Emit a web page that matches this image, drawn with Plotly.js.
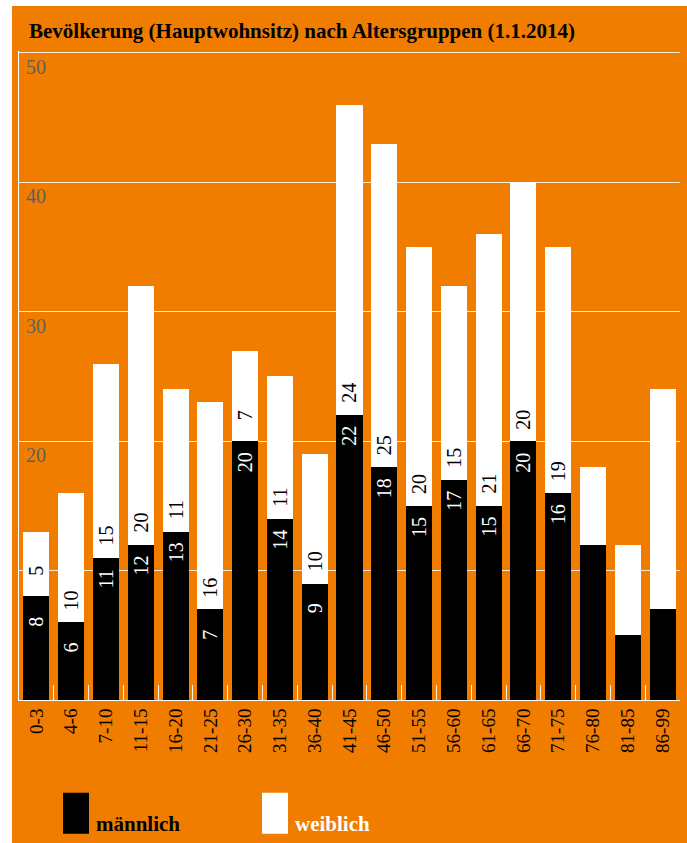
<!DOCTYPE html>
<html>
<head>
<meta charset="utf-8">
<script src="https://cdn.plot.ly/plotly-3.0.1.min.js"></script>
<style>
  html, body { margin: 0; padding: 0; background: #ffffff; width: 687px; height: 843px; overflow: hidden; }
  #chart { position: absolute; left: 12px; top: 6px; width: 675px; height: 837px; }
</style>
</head>
<body>
<div id="chart"></div>
<script>
// ---- data ----
const categories = ['0-3','4-6','7-10','11-15','16-20','21-25','26-30','31-35','36-40','41-45',
                    '46-50','51-55','56-60','61-65','66-70','71-75','76-80','81-85','86-99'];
const maennlich = [8, 6, 11, 12, 13, 7, 20, 14, 9, 22, 18, 15, 17, 15, 20, 16, 12, 5, 7];
const weiblich  = [5, 10, 15, 20, 11, 16, 7, 11, 10, 24, 25, 20, 15, 21, 20, 19, 6, 7, 17];
const labelShown = [true,true,true,true,true,true,true,true,true,true,
                    true,true,true,true,true,true,false,false,false];
const yTickVals = [10, 20, 30, 40, 50];
const titleText = 'Bevölkerung (Hauptwohnsitz) nach Altersgruppen (1.1.2014)';

// ---- style ----
const ORANGE = '#F07D00';
const FONT = 'Liberation Serif, Times New Roman, serif';

const traces = [
  {
    type: 'bar', name: 'männlich', x: categories, y: maennlich,
    marker: { color: '#000000', line: { width: 0 } },
    hoverinfo: 'x+y'
  },
  {
    type: 'bar', name: '<span style="color:#ffffff">weiblich</span>', x: categories, y: weiblich,
    marker: { color: '#ffffff', line: { width: 0 } },
    hoverinfo: 'x+y'
  }
];

// value labels inside the bars (rotated), placed relative to the male/female boundary
const annotations = [];
categories.forEach((c, i) => {
  if (!labelShown[i]) return;
  const mTxt = String(maennlich[i]);
  const fTxt = String(weiblich[i]);
  annotations.push({
    x: c, y: maennlich[i], xref: 'x', yref: 'y', text: mTxt, showarrow: false,
    textangle: -90, xanchor: 'center', yanchor: 'middle',
    yshift: -(mTxt.length === 1 ? 25 : 21),
    font: { family: FONT, size: 20, color: '#ffffff' }
  });
  annotations.push({
    x: c, y: maennlich[i], xref: 'x', yref: 'y', text: fTxt, showarrow: false,
    textangle: -90, xanchor: 'center', yanchor: 'middle',
    yshift: (fTxt.length === 1 ? 26 : 22),
    font: { family: FONT, size: 20, color: '#000000' }
  });
});

const layout = {
  width: 675, height: 837,
  paper_bgcolor: ORANGE, plot_bgcolor: ORANGE,
  margin: { l: 7, r: 7, t: 45, b: 143, pad: 0 },
  barmode: 'stack', bargap: 0.25,
  font: { family: FONT, size: 19, color: '#000000' },
  title: {
    text: '<b>' + titleText + '</b>',
    x: 17 / 675, xref: 'container', xanchor: 'left',
    y: 1 - 25 / 837, yref: 'container', yanchor: 'middle',
    font: { family: FONT, size: 21, color: '#000000' }
  },
  xaxis: {
    type: 'category', range: [-0.5, categories.length - 0.5],
    showline: true, linecolor: '#ffffff', linewidth: 1,
    ticks: 'inside', tickson: 'boundaries', ticklen: 15, tickwidth: 1, tickcolor: 'rgba(255,255,255,0.9)',
    tickangle: -90, tickfont: { family: FONT, size: 19, color: '#000000' },
    showgrid: false, zeroline: false, layer: 'below traces', fixedrange: true
  },
  yaxis: {
    range: [0, 50.15], tickvals: yTickVals, ticktext: yTickVals.map(String),
    showline: true, linecolor: '#ffffff', linewidth: 1,
    showgrid: true, gridcolor: 'rgba(255,255,255,0.85)', gridwidth: 1,
    zeroline: false, ticks: '',
    ticklabelposition: 'outside', ticklabelstandoff: -32, ticklabelshift: 14,
    tickfont: { family: FONT, size: 20, color: '#5f5f5f' },
    layer: 'below traces', fixedrange: true
  },
  showlegend: true,
  legend: {
    orientation: 'h', traceorder: 'normal',
    x: 44 / 675, xref: 'container', xanchor: 'left',
    y: 1 - 817 / 837, yref: 'container', yanchor: 'middle',
    bgcolor: 'rgba(0,0,0,0)', borderwidth: 0,
    entrywidth: 154, entrywidthmode: 'pixels',
    font: { family: FONT, size: 21, color: '#000000', weight: 'bold' }
  },
  annotations: annotations,
  hovermode: false
};

Plotly.newPlot('chart', traces, layout, { displayModeBar: false, staticPlot: true }).then(gd => {
  // enlarge legend swatches to tall rectangles like the reference
  gd.querySelectorAll('.legend [clip-path]').forEach(el => el.removeAttribute('clip-path'));
  gd.querySelectorAll('.legend .legendpoints path').forEach(p => {
    p.setAttribute('d', 'M13,11H-13V-30H13Z');
  });
});
</script>
</body>
</html>
